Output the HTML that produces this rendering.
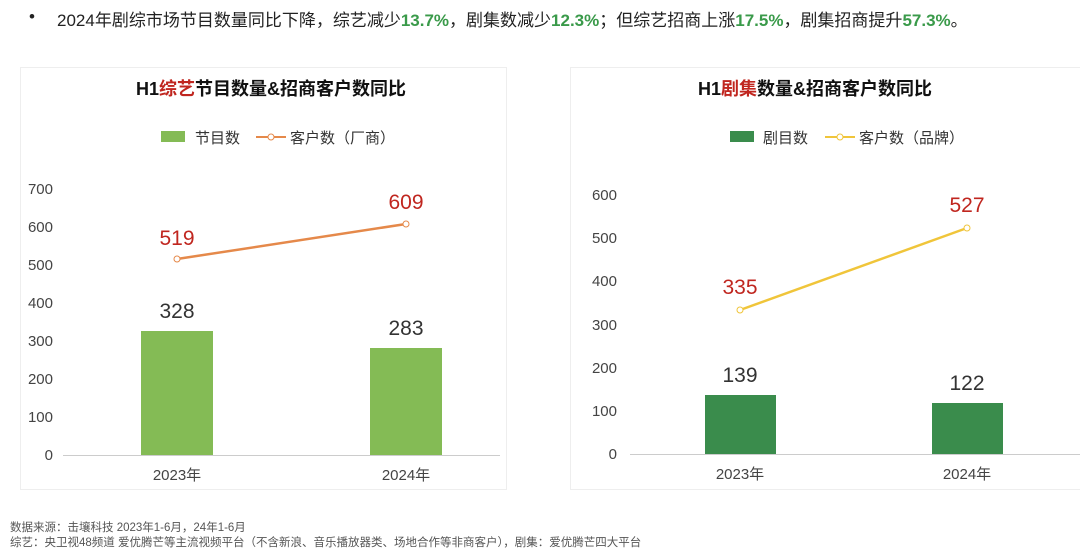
<!DOCTYPE html>
<html><head><meta charset="utf-8"><style>
body{margin:0;width:1080px;height:551px;background:#fff;overflow:hidden;font-family:"Liberation Sans","Noto Sans CJK SC",sans-serif;position:relative}
.t{position:absolute;white-space:nowrap}
</style></head><body>
<div class="t" style="left:29px;top:7px;font-size:17px;color:#222">•</div>
<div class="t" style="left:57px;top:6px;font-size:17px;color:#222">2024年剧综市场节目数量同比下降，综艺减少<b style="color:#3a9a4a">13.7%</b>，剧集数减少<b style="color:#3a9a4a">12.3%</b>；但综艺招商上涨<b style="color:#3a9a4a">17.5%</b>，剧集招商提升<b style="color:#3a9a4a">57.3%</b>。</div>
<svg width="1080" height="551" style="position:absolute;left:0;top:0" font-family="Liberation Sans, Noto Sans CJK SC, sans-serif">
<rect x="20.5" y="67.5" width="486" height="422" fill="none" stroke="#eee"/>
<rect x="570.5" y="67.5" width="520" height="422" fill="none" stroke="#eee"/>
<text x="271" y="95" text-anchor="middle" font-size="18" font-weight="bold" fill="#111">H1<tspan fill="#c0261f">综艺</tspan>节目数量&amp;招商客户数同比</text>
<text x="815" y="95" text-anchor="middle" font-size="18" font-weight="bold" fill="#111">H1<tspan fill="#c0261f">剧集</tspan>数量&amp;招商客户数同比</text>
<rect x="161" y="131" width="24" height="11" fill="#84bb55"/><text x="195" y="143" font-size="15" fill="#333">节目数</text>
<line x1="256" y1="137" x2="286" y2="137" stroke="#e5894a" stroke-width="2"/><circle cx="271" cy="137" r="3" fill="#fff" stroke="#e5894a"/><text x="290" y="143" font-size="15" fill="#333">客户数（厂商）</text>
<rect x="730" y="131" width="24" height="11" fill="#3a8c4c"/><text x="763" y="143" font-size="15" fill="#333">剧目数</text>
<line x1="825" y1="137" x2="855" y2="137" stroke="#f0c53a" stroke-width="2"/><circle cx="840" cy="137" r="3" fill="#fff" stroke="#f0c53a"/><text x="859" y="143" font-size="15" fill="#333">客户数（品牌）</text>
<g font-size="15" fill="#444" text-anchor="end">
<text x="53" y="460">0</text><text x="53" y="422">100</text><text x="53" y="384">200</text><text x="53" y="346">300</text><text x="53" y="308">400</text><text x="53" y="270">500</text><text x="53" y="232">600</text><text x="53" y="194">700</text>
<text x="617" y="459">0</text><text x="617" y="416">100</text><text x="617" y="373">200</text><text x="617" y="330">300</text><text x="617" y="286">400</text><text x="617" y="243">500</text><text x="617" y="200">600</text>
</g>
<line x1="63" y1="455.5" x2="500" y2="455.5" stroke="#ccc"/>
<line x1="630" y1="454.5" x2="1080" y2="454.5" stroke="#ccc"/>
<rect x="141" y="331" width="72" height="124" fill="#84bb55"/>
<rect x="370" y="348" width="72" height="107" fill="#84bb55"/>
<rect x="705" y="395" width="71" height="59" fill="#3a8c4c"/>
<rect x="932" y="403" width="71" height="51" fill="#3a8c4c"/>
<polyline points="177,259 406,224" stroke="#e5894a" stroke-width="2.5" fill="none"/>
<circle cx="177" cy="259" r="3" fill="#fff" stroke="#e5894a"/><circle cx="406" cy="224" r="3" fill="#fff" stroke="#e5894a"/>
<polyline points="740,310 967,228" stroke="#f0c53a" stroke-width="2.5" fill="none"/>
<circle cx="740" cy="310" r="3" fill="#fff" stroke="#f0c53a"/><circle cx="967" cy="228" r="3" fill="#fff" stroke="#f0c53a"/>
<g font-size="21" text-anchor="middle">
<text x="177" y="245" fill="#c0261f">519</text><text x="406" y="209" fill="#c0261f">609</text>
<text x="177" y="318" fill="#333">328</text><text x="406" y="335" fill="#333">283</text>
<text x="740" y="294" fill="#c0261f">335</text><text x="967" y="212" fill="#c0261f">527</text>
<text x="740" y="382" fill="#333">139</text><text x="967" y="390" fill="#333">122</text>
</g>
<g font-size="15" fill="#444" text-anchor="middle">
<text x="177" y="480">2023年</text><text x="406" y="480">2024年</text>
<text x="740" y="479">2023年</text><text x="967" y="479">2024年</text>
</g>
<text x="10" y="531" font-size="11.5" fill="#555">数据来源：击壤科技  2023年1-6月，24年1-6月</text>
<text x="10" y="546" font-size="11.5" fill="#555">综艺：央卫视48频道  爱优腾芒等主流视频平台（不含新浪、音乐播放器类、场地合作等非商客户），剧集：爱优腾芒四大平台</text>
</svg>
</body></html>
